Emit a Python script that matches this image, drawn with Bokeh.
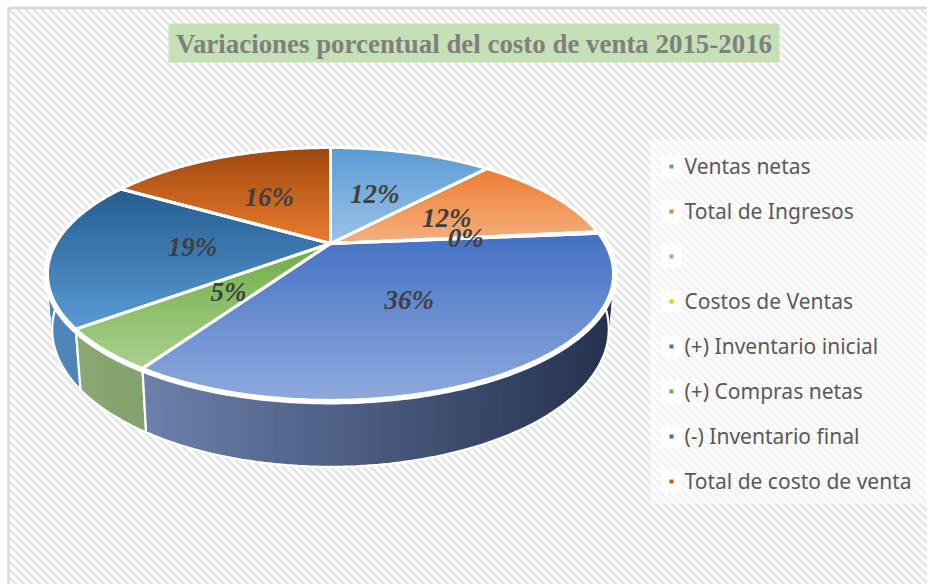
import numpy as np
from bokeh.plotting import figure
from bokeh.models import Range1d
from bokeh.core.properties import value
from bokeh.embed import file_html
from bokeh.resources import INLINE

# ---- data ----
categories = ["Ventas netas", "Total de Ingresos", "", "Costos de Ventas",
              "(+) Inventario inicial", "(+) Compras netas",
              "(-) Inventario final", "Total de costo de venta"]
shares = [11.7, 11.7, 0.2, 0.0, 35.6, 5.3, 19.1, 16.4]
title_text = "Variaciones porcentual del costo de venta 2015-2016"

# ---- style ----
key_colors = ["#5b9bd5", "#ed7d31", "#a5a5a5", "#ffc000", "#4472c4", "#70ad47", "#2e75b6", "#c55a11"]
top_hi = ["#5b9bd5", "#ed7d31", "#a5a5a5", "#ffc000", "#4472c4", "#70ad47", "#255e91", "#9e480e"]
top_lo = ["#9dc3e6", "#f4b183", "#c9c9c9", "#ffd966", "#8faadc", "#a9d18e", "#5b9bd5", "#ed7d31"]
side_l = ["#5b9bd5", "#c46a2c", "#888888", "#c09000", "#6c80ab", "#8aa874", "#4f86b8", "#a0521a"]
side_r = ["#5b9bd5", "#c46a2c", "#888888", "#c09000", "#25324e", "#83a26c", "#4d82b2", "#a0521a"]

# projection of the tilted disc
CX, CY, RX, RY, PERSP = 330.0, 243.0, 274.7, 119.1, 0.241
DEPTH_W, DEPTH_Y = 0.016, 54.0


def hex2rgb(h):
    return np.array([int(h[i:i + 2], 16) for i in (1, 3, 5)], float)


def mix(a, b, t):
    c = hex2rgb(a) * (1 - t) + hex2rgb(b) * t
    return "#%02x%02x%02x" % tuple(int(round(v)) for v in c)


def top_pt(theta, r=1.0):
    u, v = r * np.sin(theta), r * np.cos(theta)
    w = 1 + PERSP * v
    return CX + RX * u / w, CY - RY * v / w


def bot_pt(theta):
    u, v = np.sin(theta), np.cos(theta)
    w = 1 + PERSP * v + DEPTH_W
    return CX + RX * u / w, CY - (RY * v - DEPTH_Y) / w


def clip_below(poly, t):
    out = []
    n = len(poly)
    for i in range(n):
        a, b = poly[i], poly[(i + 1) % n]
        ia, ib = a[1] >= t, b[1] >= t
        if ia:
            out.append(a)
        if ia != ib:
            k = (t - a[1]) / (b[1] - a[1])
            out.append((a[0] + k * (b[0] - a[0]), t))
    return out


p = figure(width=927, height=584, output_backend="svg", toolbar_location=None,
           x_range=Range1d(0, 927), y_range=Range1d(584, 0), min_border=0,
           outline_line_color=None, background_fill_color="white", border_fill_color="white")
p.axis.visible = False
p.grid.visible = False

# hatched chart-area background
off = np.arange(-600, 930, 8.0)
p.segment(off, np.full_like(off, 0), off + 600, np.full_like(off, 600),
          line_color="#e6e6e6", line_width=2.9)
# outside the chart area + border
p.quad(left=[0, 0], right=[8, 927], top=[0, 0], bottom=[584, 7], fill_color="white", line_color=None)
p.segment([8, 8], [7.5, 7.5], [927, 8], [7.5, 584], line_color="#d9d9d9", line_width=2.5)

total = sum(shares)
edges = np.cumsum([0.0] + shares) / total * 2 * np.pi

# side walls, back to front
for i in [1, 7, 0, 2, 3, 6, 5, 4]:
    a0, a1 = edges[i], edges[i + 1]
    if a1 - a0 <= 0:
        continue
    th = np.linspace(a0, a1, 70)
    tx, ty = top_pt(th)
    bx, by = bot_pt(th)
    xs, ys, cols = [], [], []
    xmin, xmax = bx.min(), bx.max()
    for j in range(len(th) - 1):
        xs.append(list(tx[j:]) + list(bx[j:][::-1]))
        ys.append(list(ty[j:]) + list(by[j:][::-1]))
        mid = 0.5 * (bx[j] + bx[j + 1])
        cols.append(mix(side_l[i], side_r[i], (mid - xmin) / max(xmax - xmin, 1)))
    p.patches(xs, ys, fill_color=cols, line_color=None)
    p.patch(list(tx) + list(bx[::-1]), list(ty) + list(by[::-1]),
            fill_color=None, line_color="white", line_width=2.2)

# white gap between the front rim and the walls
th = np.linspace(edges[4], 1.5 * np.pi, 200)
rx_, ry_ = top_pt(th)
p.line(rx_, ry_, line_color="white", line_width=8)

# top faces with banded vertical gradient
for i in range(len(shares)):
    a0, a1 = edges[i], edges[i + 1]
    if a1 - a0 <= 0:
        continue
    th = np.linspace(a0, a1, 90)
    ax, ay = top_pt(th)
    poly = [(CX, CY)] + list(zip(ax, ay))
    ymin, ymax = min(q[1] for q in poly), max(q[1] for q in poly)
    xs, ys, cols = [], [], []
    for t in np.linspace(0, 1, 40, endpoint=False):
        c = clip_below(poly, ymin + t * (ymax - ymin))
        if len(c) >= 3:
            xs.append([q[0] for q in c])
            ys.append([q[1] for q in c])
            cols.append(mix(top_hi[i], top_lo[i], t))
    p.patches(xs, ys, fill_color=cols, line_color=None)
for i in range(len(shares)):
    a0, a1 = edges[i], edges[i + 1]
    if a1 - a0 <= 0:
        continue
    th = np.linspace(a0, a1, 90)
    ax, ay = top_pt(th)
    p.patch([CX] + list(ax), [CY] + list(ay), fill_color=None, line_color="white",
            line_width=3, line_join="miter")

# percentage labels
lx, ly, lt = [], [], []
for i, s in enumerate(shares):
    if s <= 0:
        continue
    x, y = top_pt(0.5 * (edges[i] + edges[i + 1]), 0.5)
    lx.append(float(x)); ly.append(float(y)); lt.append(f"{round(s / total * 100):d}%")
p.text(lx, ly, text=lt, text_font=value("Liberation Serif"), text_font_style="bold italic",
       text_font_size="27px", text_color="#404040", text_align="center", text_baseline="middle")

# title
p.quad(left=[168], right=[779], top=[23], bottom=[62], fill_color="#c5e0b4", line_color=None)
p.text([473.5], [43], text=[title_text], text_font=value("Liberation Serif"),
       text_font_style="bold", text_font_size="26.9px", text_color="#7f7f7f",
       text_align="center", text_baseline="middle")

# legend
p.quad(left=[650], right=[927], top=[140], bottom=[503], fill_color="white", fill_alpha=0.5, line_color=None)
ky = 166 + 45 * np.arange(len(categories))
p.quad(left=np.full(8, 661), right=np.full(8, 681), top=ky - 11, bottom=ky + 11,
       fill_color="white", fill_alpha=0.9, line_color=None)
p.quad(left=np.full(8, 669), right=np.full(8, 673), top=ky - 2, bottom=ky + 2,
       fill_color=key_colors, line_color=None)
p.text(np.full(8, 684), ky - 1, text=categories, text_font=value("Noto Sans"),
       text_font_size="21px", text_color="#595959", text_align="left", text_baseline="middle")

open("out.html", "w").write(file_html(p, INLINE))
